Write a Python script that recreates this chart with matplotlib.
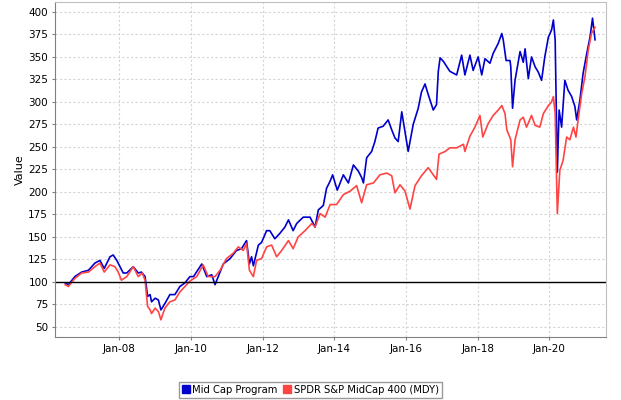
import datetime as dt
import matplotlib
matplotlib.use("Agg")
import matplotlib.pyplot as plt
import matplotlib.dates as mdates
from matplotlib.lines import Line2D

# Valores (anos decimais e valor indexado em 100)
mid_cap_anos = [
    2006.49, 2006.58, 2006.76, 2006.95, 2007.14, 2007.32, 2007.46, 2007.58, 2007.74, 2007.83,
    2007.93, 2008.02, 2008.11, 2008.21, 2008.39, 2008.53, 2008.62, 2008.72, 2008.79, 2008.86,
    2008.90, 2009.00, 2009.09, 2009.16, 2009.27, 2009.41, 2009.55, 2009.69, 2009.83, 2009.97,
    2010.07, 2010.30, 2010.44, 2010.58, 2010.67, 2010.72, 2010.90, 2011.09, 2011.27, 2011.41,
    2011.55, 2011.63, 2011.69, 2011.74, 2011.88, 2011.97, 2012.11, 2012.20, 2012.34, 2012.48,
    2012.62, 2012.72, 2012.85, 2012.95, 2013.13, 2013.32, 2013.46, 2013.55, 2013.69, 2013.78,
    2013.88, 2013.95, 2014.08, 2014.25, 2014.39, 2014.53, 2014.67, 2014.76, 2014.81, 2014.90,
    2015.04, 2015.13, 2015.22, 2015.36, 2015.50, 2015.60, 2015.69, 2015.78, 2015.88, 2016.06,
    2016.20, 2016.34, 2016.43, 2016.53, 2016.62, 2016.76, 2016.85, 2016.90, 2016.95, 2017.04,
    2017.22, 2017.41, 2017.55, 2017.64, 2017.78, 2017.87, 2018.01, 2018.11, 2018.20, 2018.34,
    2018.43, 2018.57, 2018.67, 2018.71, 2018.79, 2018.90, 2018.92, 2018.97, 2019.04, 2019.18,
    2019.27, 2019.32, 2019.41, 2019.50, 2019.60, 2019.69, 2019.78, 2019.87, 2019.97, 2020.06,
    2020.11, 2020.16, 2020.22, 2020.27, 2020.34, 2020.43, 2020.52, 2020.62, 2020.71, 2020.76,
    2020.85, 2020.94, 2021.04, 2021.13, 2021.20, 2021.27,
]
mid_cap_valores = [
    99, 97, 106, 111, 113, 121, 124, 115, 128, 130,
    124, 117, 110, 110, 117, 110, 111, 106, 84, 86,
    78, 82, 80, 69, 76, 86, 86, 95, 99, 106,
    106, 120, 106, 108, 97, 102, 120, 126, 135, 137,
    146, 120, 128, 118, 141, 144, 157, 157, 148, 154,
    161, 169, 157, 165, 172, 172, 161, 180, 185, 204,
    212, 219, 202, 219, 210, 230, 223, 216, 210, 238,
    245, 256, 271, 273, 280, 269, 260, 256, 289, 245,
    275, 293, 311, 320, 308, 291, 297, 334, 349, 345,
    334, 330, 352, 330, 352, 335, 350, 330, 348, 343,
    354, 365, 376, 369, 346, 346, 339, 293, 324, 356,
    344, 359, 326, 350, 339, 333, 324, 350, 372, 380,
    391, 369, 222, 291, 272, 324, 313, 306, 295, 280,
    302, 332, 354, 372, 393, 369,
]

mdy_anos = [
    2006.49, 2006.58, 2006.76, 2006.95, 2007.14, 2007.32, 2007.46, 2007.58, 2007.74, 2007.88,
    2007.97, 2008.06, 2008.21, 2008.39, 2008.53, 2008.64, 2008.72, 2008.79, 2008.86, 2008.90,
    2009.00, 2009.09, 2009.16, 2009.27, 2009.41, 2009.55, 2009.69, 2009.83, 2009.97, 2010.16,
    2010.34, 2010.48, 2010.67, 2010.81, 2010.99, 2011.18, 2011.32, 2011.46, 2011.55, 2011.63,
    2011.74, 2011.83, 2011.97, 2012.11, 2012.25, 2012.39, 2012.53, 2012.72, 2012.85, 2012.99,
    2013.18, 2013.37, 2013.46, 2013.60, 2013.74, 2013.88, 2014.06, 2014.25, 2014.44, 2014.62,
    2014.76, 2014.90, 2015.09, 2015.27, 2015.46, 2015.60, 2015.69, 2015.83, 2015.97, 2016.11,
    2016.25, 2016.43, 2016.62, 2016.76, 2016.85, 2016.92, 2017.09, 2017.22, 2017.41, 2017.60,
    2017.64, 2017.78, 2017.92, 2018.06, 2018.14, 2018.29, 2018.43, 2018.57, 2018.67, 2018.76,
    2018.81, 2018.92, 2018.97, 2019.04, 2019.18, 2019.27, 2019.36, 2019.50, 2019.60, 2019.73,
    2019.83, 2019.97, 2020.06, 2020.11, 2020.16, 2020.22, 2020.29, 2020.38, 2020.48, 2020.57,
    2020.67, 2020.74, 2020.80, 2020.90, 2020.99, 2021.08, 2021.17, 2021.27,
]
mdy_valores = [
    97, 95, 104, 110, 111, 117, 121, 111, 119, 117,
    111, 102, 106, 117, 106, 110, 102, 73, 69, 65,
    71, 67, 58, 71, 78, 80, 89, 95, 101, 106,
    119, 106, 106, 113, 126, 132, 139, 135, 143, 113,
    106, 124, 126, 139, 141, 128, 135, 146, 137, 150,
    157, 165, 161, 176, 172, 186, 186, 197, 201, 207,
    188, 208, 210, 219, 221, 218, 199, 208, 201, 181,
    207, 218, 227, 219, 214, 242, 245, 249, 249, 253,
    245, 262, 272, 285, 261, 276, 285, 291, 296, 287,
    269, 258, 228, 258, 280, 283, 272, 285, 274, 272,
    287, 296, 300, 306, 287, 176, 224, 235, 261, 258,
    272, 261, 280, 309, 328, 357, 376, 383,
]

serie_1 = 'Mid Cap Program'
serie_2 = 'SPDR S&P MidCap 400 (MDY)'
referencia = 100


def ano_para_data(a):
    ano = int(a)
    return dt.datetime(ano, 1, 1) + dt.timedelta(days=(a - ano) * 365.25)


datas_1 = [ano_para_data(a) for a in mid_cap_anos]
datas_2 = [ano_para_data(a) for a in mdy_anos]

azul = '#0000cc'
vermelho = '#ff4444'

fig = plt.figure(figsize=(6.21, 4.00), dpi=100)
ax = fig.add_axes([55 / 621, 63 / 400, 551 / 621, 335 / 400])

ax.plot(datas_1, mid_cap_valores, color=azul, lw=1.2)
ax.plot(datas_2, mdy_valores, color=vermelho, lw=1.2)
ax.axhline(referencia, color='black', lw=1.0)

ax.set_xlim(ano_para_data(2006.206), ano_para_data(2021.576))
ax.set_ylim(38.9, 411)
ax.set_yticks(range(50, 401, 25))
ax.set_xticks([dt.datetime(y, 1, 1) for y in range(2008, 2021, 2)])
ax.xaxis.set_major_formatter(mdates.DateFormatter('Jan-%y'))

ax.grid(True, color='#d4d4d4', linestyle=(0, (2, 2)), lw=0.8)
ax.set_axisbelow(True)
ax.tick_params(labelsize=7.5, length=2, color='#808080', pad=3)
ax.set_ylabel('Value', fontsize=8, labelpad=2)

for lado in ['left', 'bottom']:
    ax.spines[lado].set_color('#808080')
for lado in ['top', 'right']:
    ax.spines[lado].set_color('#c0c0c0')

alcas = [Line2D([], [], marker='s', linestyle='none', markersize=6, color=azul),
         Line2D([], [], marker='s', linestyle='none', markersize=6, color=vermelho)]
leg = fig.legend(alcas, [serie_1, serie_2], loc='center', bbox_to_anchor=(0.5, 0.026),
                 ncol=2, fontsize=7.2, frameon=True, fancybox=False,
                 handlelength=0.7, handletextpad=0.3, columnspacing=0.6,
                 borderpad=0.3, borderaxespad=0)
leg.get_frame().set_edgecolor('#808080')
leg.get_frame().set_linewidth(1.0)

fig.savefig('out.png', dpi=100)
